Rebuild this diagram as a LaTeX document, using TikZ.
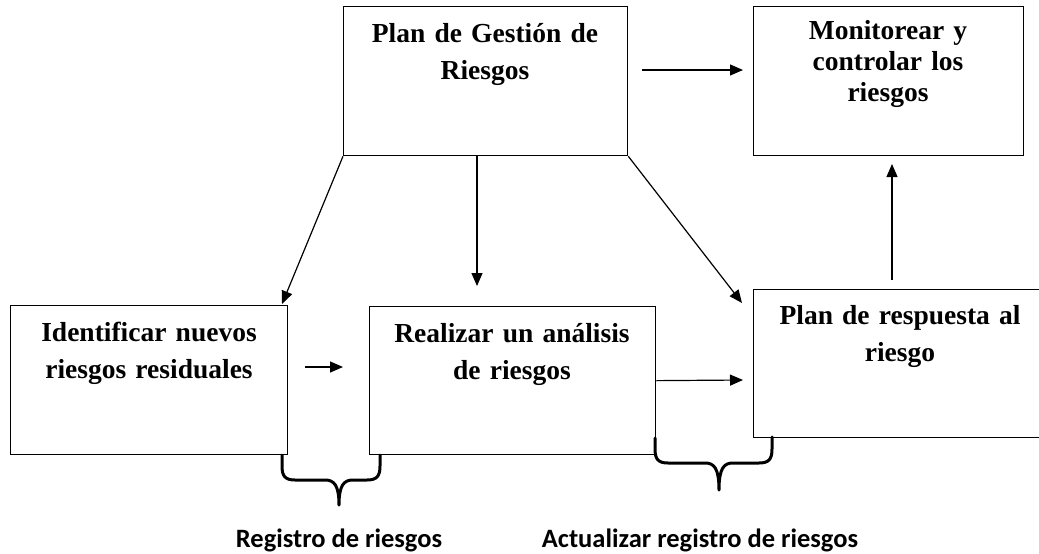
\documentclass[tikz,border=0pt]{standalone}
\usepackage{fontspec}
\setmainfont{Liberation Serif}
\newfontfamily\calib{Carlito}
\usetikzlibrary{arrows.meta}
\tikzset{
  box/.style={draw, line width=1.3pt, inner sep=0pt, anchor=north west},
  txt/.style={inner sep=0pt, text width=300pt, align=center, anchor=base,
    font=\bfseries\fontsize{27.5}{37}\selectfont},
  arr/.style={line width=1.2pt, -{Triangle[length=13pt,width=11pt]}},
  brace/.style={line width=3pt, line join=round, line cap=round},
  lbl/.style={inner sep=0pt, anchor=base, font=\calib\bfseries\fontsize{26.5}{30}\selectfont}
}
\begin{document}
\begin{tikzpicture}[x=1pt,y=-1pt]
\useasboundingbox (0,0) rectangle (1039,554);
% boxes
\node[box, minimum width=284pt, minimum height=149pt] (gest) at (343,6) {};
\node[box, minimum width=270pt, minimum height=149pt] (mon) at (753,6) {};
\node[box, minimum width=277pt, minimum height=149pt] (ident) at (10,305) {};
\node[box, minimum width=286pt, minimum height=148pt] (real) at (369,306) {};
\node[box, minimum width=294pt, minimum height=148pt] (resp) at (753,289) {};
% texts
\node[txt] (gestT) at (485,42) {Plan de Gestión de\\Riesgos};
\node[txt, font=\bfseries\fontsize{27.5}{31}\selectfont] (monT) at (888,39) {Monitorear y\\controlar los\\riesgos};
\node[txt] (identT) at (149,341) {Identificar nuevos\\riesgos residuales};
\node[txt] (realT) at (512,342) {Realizar un análisis\\de riesgos};
\node[txt] (respT) at (900,324) {Plan de respuesta al\\riesgo};
% free connector ends
\coordinate (g1) at (642,70);
\coordinate (g2) at (743,70);
\coordinate (a1) at (282,304);
\coordinate (b0) at (477,155);
\coordinate (b1) at (477,286);
\coordinate (c1) at (742,303);
\coordinate (i1) at (305,367);
\coordinate (i2) at (343,367);
\coordinate (r2) at (743,380);
\coordinate (m0) at (892,280);
\coordinate (m1) at (892,164);
% connectors
\draw[arr] (g1) -- (g2);
\draw[arr] (gest.south west) -- (a1);
\draw[arr] (b0) -- (b1);
\draw[arr] (gest.south east) -- (c1);
\draw[arr] (i1) -- (i2);
\draw[arr] (real.east) -- (r2);
\draw[arr] (m0) -- (m1);
% braces
\draw[brace] (282,455) -- (282,466) .. controls (282,476) and (285,480) .. (295,480)
  -- (325,480) .. controls (334,480) and (339,485) .. (339,505)
  .. controls (339,485) and (344,480) .. (353,480)
  -- (367,480) .. controls (377,480) and (380,476) .. (380,466) -- (380,455);
\draw[brace] (655,438) -- (655,449) .. controls (655,459) and (658,463) .. (668,463)
  -- (705,463) .. controls (714,463) and (719,468) .. (719,490)
  .. controls (719,468) and (724,463) .. (733,463)
  -- (759,463) .. controls (769,463) and (772,459) .. (772,449) -- (772,437);
% labels
\node[lbl] (reg) at (339,547) {Registro de riesgos};
\node[lbl] (act) at (700,547) {Actualizar registro de riesgos};
\end{tikzpicture}
\end{document}
